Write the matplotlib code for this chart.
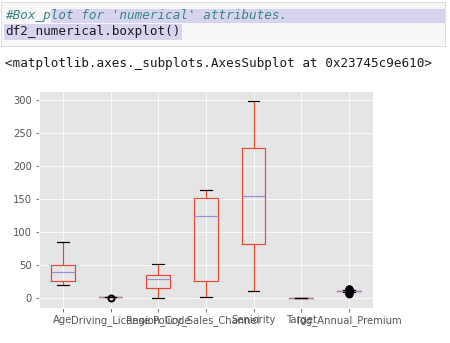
import matplotlib
matplotlib.use("Agg")
import matplotlib.pyplot as plt
from matplotlib.patches import Rectangle

# columns of df2_numerical and the box statistics
columns = ["Age", "Driving_License", "Region_Code", "Policy_Sales_Channel",
           "Seniority", "Target", "log_Annual_Premium"]
whislo = [20, 1, 0, 1, 10, 0, 9.2]
q1 = [25.5, 1, 15, 26, 82, 0, 10.1]
med = [39, 1, 28.5, 124, 154, 0, 10.6]
q3 = [50, 1, 34.5, 152, 227, 0, 10.9]
whishi = [85, 1, 52, 163, 299, 0, 11.8]
fliers = [[], [0], [], [], [], [],
          [6.5, 7.0, 7.5, 8.0, 8.5, 12.0, 12.5, 13.0, 13.5, 14.0]]

code_comment = "#Box_plot for 'numerical' attributes."
code_call = "df2_numerical.boxplot()"
out_repr = "<matplotlib.axes._subplots.AxesSubplot at 0x23745c9e610>"

W, H = 450, 343
plt.style.use("ggplot")
fig = plt.figure(figsize=(W / 72, H / 72), dpi=72)
fig.patch.set_facecolor("white")

# notebook cell drawn in pixel coords on an overlay axes
bg = fig.add_axes([0, 0, 1, 1], zorder=-1)
bg.set_xlim(0, W)
bg.set_ylim(H, 0)
bg.axis("off")
bg.add_patch(Rectangle((0.5, 2), 444.5, 44, facecolor="#f7f7f7", edgecolor="#dcdcdc", lw=1))
bg.add_patch(Rectangle((50.7, 8.5), 394, 14, facecolor="#d7d4f0", edgecolor="none"))
bg.add_patch(Rectangle((4, 23.5), 178, 16, facecolor="#d7d4f0", edgecolor="none"))
mono = ["DejaVu Sans Mono"]
bg.text(5, 15.5, code_comment, family=mono, size=12.6, style="italic",
        color="#3a8585", va="center", ha="left")
bg.text(5, 32, code_call, family=mono, size=12.6, color="#1a1a1a", va="center", ha="left")
bg.text(5, 63, out_repr, family=mono, size=12.6, color="#1a1a1a", va="center", ha="left")

ax = fig.add_axes([39 / W, (H - 307.7) / H, 333.7 / W, 216.7 / H])
stats = []
for i, c in enumerate(columns):
    stats.append({"label": c, "whislo": whislo[i], "q1": q1[i], "med": med[i],
                  "q3": q3[i], "whishi": whishi[i], "fliers": fliers[i]})

ax.bxp(stats, widths=0.5,
       boxprops=dict(color="#E24A33", lw=1.2),
       whiskerprops=dict(color="#E24A33", lw=1.2),
       medianprops=dict(color="#988ED5", lw=1.2, zorder=2.05),
       capprops=dict(color="black", lw=1.2, zorder=2.2),
       flierprops=dict(marker="o", markeredgecolor="black", markerfacecolor="none",
                       markersize=6, markeredgewidth=2, zorder=2.3))
ax.set_xlim(0.5, 7.5)
ax.set_ylim(-14.95, 313.95)
ax.set_yticks([0, 50, 100, 150, 200, 250, 300])
ax.tick_params(labelsize=10, colors="#555555", labelcolor="#555555")
ax.grid(True, color="white")

fig.savefig("out.png", dpi=72)
